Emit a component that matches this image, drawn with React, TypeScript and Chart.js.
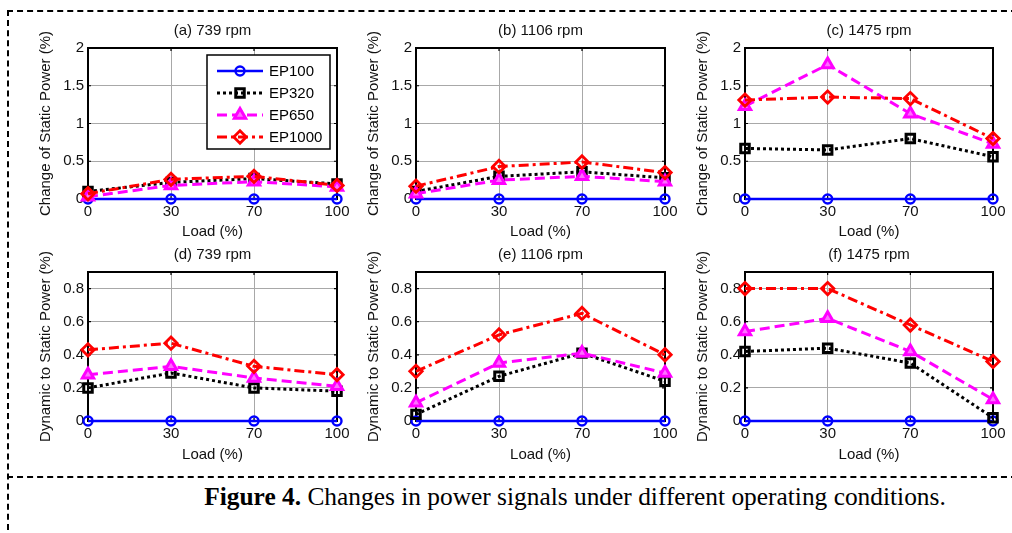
import React, { useEffect, useRef } from "react";
import { Chart, registerables } from "chart.js";

Chart.register(...registerables);

// ---------- data ----------
const loadLabels = ["0", "30", "70", "100"];
const seriesNames = ["EP100", "EP320", "EP650", "EP1000"];

// (a) 739 rpm – change of static power (%)
const a_EP100 = [0, 0, 0, 0];
const a_EP320 = [0.1, 0.22, 0.27, 0.2];
const a_EP650 = [0.03, 0.18, 0.23, 0.16];
const a_EP1000 = [0.07, 0.26, 0.3, 0.18];
// (b) 1106 rpm
const b_EP100 = [0, 0, 0, 0];
const b_EP320 = [0.1, 0.3, 0.36, 0.28];
const b_EP650 = [0.07, 0.25, 0.3, 0.23];
const b_EP1000 = [0.17, 0.43, 0.49, 0.35];
// (c) 1475 rpm
const c_EP100 = [0, 0, 0, 0];
const c_EP320 = [0.67, 0.65, 0.8, 0.56];
const c_EP650 = [1.23, 1.78, 1.13, 0.73];
const c_EP1000 = [1.31, 1.35, 1.33, 0.8];
// (d) 739 rpm – dynamic to static power (%)
const d_EP100 = [0, 0, 0, 0];
const d_EP320 = [0.2, 0.29, 0.2, 0.18];
const d_EP650 = [0.28, 0.33, 0.26, 0.21];
const d_EP1000 = [0.43, 0.47, 0.33, 0.28];
// (e) 1106 rpm
const e_EP100 = [0, 0, 0, 0];
const e_EP320 = [0.04, 0.27, 0.41, 0.24];
const e_EP650 = [0.11, 0.35, 0.41, 0.29];
const e_EP1000 = [0.3, 0.52, 0.65, 0.4];
// (f) 1475 rpm
const f_EP100 = [0, 0, 0, 0];
const f_EP320 = [0.42, 0.44, 0.35, 0.02];
const f_EP650 = [0.54, 0.62, 0.42, 0.13];
const f_EP1000 = [0.8, 0.8, 0.58, 0.36];

const panelTitles = ["(a) 739 rpm", "(b) 1106 rpm", "(c) 1475 rpm", "(d) 739 rpm", "(e) 1106 rpm", "(f) 1475 rpm"];
const topYTitle = "Change of Static Power (%)";
const bottomYTitle = "Dynamic to Static Power (%)";
const xTitle = "Load (%)";
const captionBold = "Figure 4.";
const captionText = " Changes in power signals under different operating conditions.";

// ---------- styles ----------
const FONT = "'Liberation Sans', Arial, sans-serif";
const seriesStyles = [
  { color: "#0000ff", width: 2.5, dash: [] as number[], point: "circle", radius: 4.5, pbw: 2.4, fill: "rgba(0,0,0,0)" },
  { color: "#000000", width: 3, dash: [3, 3], point: "rect", radius: 6, pbw: 3, fill: "rgba(0,0,0,0)" },
  { color: "#ff00ff", width: 3, dash: [10, 5], point: "triangle", radius: 6.5, pbw: 3, fill: "#ff70ff" },
  { color: "#ff0000", width: 3, dash: [10, 4, 3, 4], point: "rectRot", radius: 6.2, pbw: 2.8, fill: "rgba(0,0,0,0)" },
];

const colLefts = [88, 416, 745];
const colRights = [337, 665, 993];
const rowTops = [48, 272];
const rowBottoms = [199, 421];
const rowBottomH = [46, 47];
const Y_AXIS_W = 68;
const RIGHT_PAD = 22;
const TOP_H = 30;

function drawMarker(ctx: CanvasRenderingContext2D, style: string, x: number, y: number, r: number, fill: string) {
  ctx.beginPath();
  if (style === "circle") {
    ctx.arc(x, y, r, 0, Math.PI * 2);
  } else if (style === "rect") {
    const s = Math.SQRT1_2 * r;
    ctx.rect(x - s, y - s, 2 * s, 2 * s);
  } else if (style === "triangle") {
    ctx.moveTo(x, y - r);
    ctx.lineTo(x + r * 0.866, y + r * 0.5);
    ctx.lineTo(x - r * 0.866, y + r * 0.5);
    ctx.closePath();
  } else {
    ctx.moveTo(x, y - r);
    ctx.lineTo(x + r, y);
    ctx.lineTo(x, y + r);
    ctx.lineTo(x - r, y);
    ctx.closePath();
  }
  ctx.fillStyle = fill;
  ctx.fill();
  ctx.stroke();
}

const boxPlugin = {
  id: "matlabBox",
  beforeDatasetsDraw(chart: any) {
    const { ctx, chartArea } = chart;
    const { left, right, top, bottom } = chartArea;
    const xs = chart.scales.x;
    const ys = chart.scales.y;
    ctx.save();
    ctx.strokeStyle = "#000";
    ctx.lineWidth = 1.2;
    ctx.beginPath();
    xs.ticks.forEach((_: any, i: number) => {
      const x = xs.getPixelForTick(i);
      ctx.moveTo(x, top);
      ctx.lineTo(x, top + 3);
      ctx.moveTo(x, bottom);
      ctx.lineTo(x, bottom - 3);
    });
    ys.ticks.forEach((_: any, i: number) => {
      const y = ys.getPixelForTick(i);
      ctx.moveTo(left, y);
      ctx.lineTo(left + 3, y);
      ctx.moveTo(right, y);
      ctx.lineTo(right - 3, y);
    });
    ctx.stroke();
    ctx.lineWidth = 2;
    ctx.strokeRect(left, top, right - left, bottom - top);
    ctx.restore();
  },
  afterDraw(chart: any) {
    const t = chart.options.plugins.matlabBox?.title;
    if (!t) return;
    const { ctx, chartArea } = chart;
    ctx.save();
    ctx.fillStyle = "#111";
    ctx.font = `15px ${FONT}`;
    ctx.textAlign = "center";
    ctx.textBaseline = "middle";
    ctx.fillText(t, (chartArea.left + chartArea.right) / 2, chartArea.top - 17);
    ctx.restore();
  },
};

const legendPlugin = {
  id: "boxLegend",
  afterDatasetsDraw(chart: any) {
    if (!chart.options.plugins.boxLegend?.show) return;
    const { ctx, chartArea } = chart;
    const w = 123;
    const h = 94;
    const lx = chartArea.right - 7 - w;
    const ly = chartArea.top + 7;
    ctx.save();
    ctx.fillStyle = "#fff";
    ctx.fillRect(lx, ly, w, h);
    ctx.strokeStyle = "#000";
    ctx.lineWidth = 1.5;
    ctx.strokeRect(lx, ly, w, h);
    seriesNames.forEach((name, i) => {
      const st = seriesStyles[i];
      const y = ly + 16 + i * 22;
      ctx.strokeStyle = st.color;
      ctx.lineWidth = st.width;
      ctx.setLineDash(st.dash);
      ctx.beginPath();
      ctx.moveTo(lx + 10, y);
      ctx.lineTo(lx + 56, y);
      ctx.stroke();
      ctx.setLineDash([]);
      ctx.lineWidth = st.pbw;
      drawMarker(ctx, st.point, lx + 33, y, st.radius, st.fill);
      ctx.fillStyle = "#000";
      ctx.font = `15px ${FONT}`;
      ctx.textBaseline = "middle";
      ctx.textAlign = "left";
      ctx.fillText(name, lx + 62, y + 1);
    });
    ctx.restore();
  },
};

type PanelProps = {
  idx: number;
  series: number[][];
};

function Panel({ idx, series }: PanelProps) {
  const ref = useRef<HTMLCanvasElement | null>(null);
  const row = idx < 3 ? 0 : 1;
  const col = idx % 3;
  const plotW = colRights[col] - colLefts[col];
  const plotH = rowBottoms[row] - rowTops[row];
  const left = colLefts[col] - Y_AXIS_W;
  const top = rowTops[row] - TOP_H;
  const width = plotW + Y_AXIS_W + RIGHT_PAD;
  const height = plotH + TOP_H + rowBottomH[row];
  const yMax = row === 0 ? 2 : 0.9;
  const yStep = row === 0 ? 0.5 : 0.2;

  useEffect(() => {
    if (!ref.current) return;
    const chart = new Chart(ref.current, {
      type: "line",
      data: {
        labels: loadLabels,
        datasets: series.map((vals, i) => {
          const st = seriesStyles[i];
          return {
            label: seriesNames[i],
            data: vals,
            borderColor: st.color,
            borderWidth: st.width,
            borderDash: st.dash,
            pointStyle: st.point as any,
            pointRadius: st.radius,
            pointBorderWidth: st.pbw,
            pointBorderColor: st.color,
            pointBackgroundColor: st.fill,
            fill: false,
            tension: 0,
            clip: false as any,
            order: 4 - i,
          };
        }),
      },
      options: {
        responsive: false,
        animation: false,
        layout: { padding: { left: 0, right: RIGHT_PAD, top: TOP_H, bottom: 0 } },
        plugins: {
          legend: { display: false },
          tooltip: { enabled: false },
          title: { display: false },
          matlabBox: { title: panelTitles[idx] },
          boxLegend: { show: idx === 0 },
        } as any,
        scales: {
          x: {
            type: "category",
            offset: false,
            grid: { color: "#a8a8a8", lineWidth: 1, drawTicks: false },
            border: { display: false },
            ticks: { color: "#111", font: { family: FONT, size: 15 }, padding: 4, maxRotation: 0 },
            title: {
              display: true,
              text: xTitle,
              color: "#111",
              font: { family: FONT, size: 15, lineHeight: 1.2 },
              padding: { top: 0, bottom: 4 },
            },
            afterFit: (s: any) => {
              s.height = rowBottomH[row];
            },
          },
          y: {
            type: "linear",
            min: 0,
            max: yMax,
            grid: { color: "#a8a8a8", lineWidth: 1, drawTicks: false },
            border: { display: false },
            ticks: {
              stepSize: yStep,
              includeBounds: false,
              color: "#111",
              font: { family: FONT, size: 15 },
              padding: 4,
              callback: (v: any) => String(Math.round(Number(v) * 10) / 10),
            },
            title: {
              display: true,
              text: row === 0 ? topYTitle : bottomYTitle,
              color: "#111",
              font: { family: FONT, size: 15, lineHeight: 1.2 },
              padding: { top: 17, bottom: 0 },
            },
            afterFit: (s: any) => {
              s.width = Y_AXIS_W;
            },
          },
        },
      },
      plugins: [boxPlugin, legendPlugin],
    });
    return () => chart.destroy();
  }, []);

  return (
    <canvas
      ref={ref}
      width={width}
      height={height}
      style={{ position: "absolute", left, top, width, height }}
    />
  );
}

const panelSeries = [
  [a_EP100, a_EP320, a_EP650, a_EP1000],
  [b_EP100, b_EP320, b_EP650, b_EP1000],
  [c_EP100, c_EP320, c_EP650, c_EP1000],
  [d_EP100, d_EP320, d_EP650, d_EP1000],
  [e_EP100, e_EP320, e_EP650, e_EP1000],
  [f_EP100, f_EP320, f_EP650, f_EP1000],
];

export default function App() {
  return (
    <div style={{ position: "absolute", left: 0, top: 0, width: 1012, height: 533, background: "#fff", overflow: "hidden" }}>
      <div style={{ position: "absolute", left: 7, top: 10, width: 1010, height: 0, borderTop: "2px dashed #000" }} />
      <div style={{ position: "absolute", left: 7, top: 10, width: 0, height: 530, borderLeft: "2px dashed #000" }} />
      <div style={{ position: "absolute", left: 7, top: 476, width: 1010, height: 0, borderTop: "2px dashed #000" }} />
      {panelSeries.map((s, i) => (
        <Panel key={i} idx={i} series={s} />
      ))}
      <div
        style={{
          position: "absolute",
          left: 0,
          width: 1150,
          top: 481,
          textAlign: "center",
          fontFamily: "'Liberation Serif', 'Times New Roman', serif",
          fontSize: 25.4,
          lineHeight: "30px",
          whiteSpace: "nowrap",
          color: "#000",
        }}
      >
        <b>{captionBold}</b>
        {captionText}
      </div>
    </div>
  );
}
